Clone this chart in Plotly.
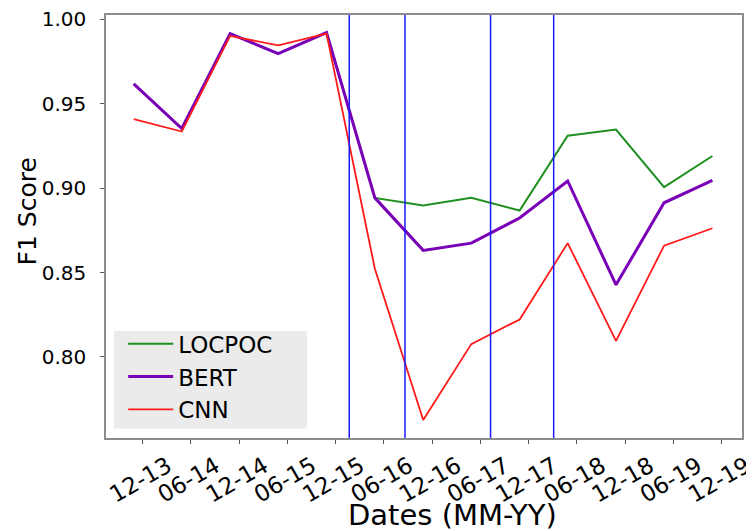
import plotly.graph_objects as go

# ---- data ----
dates = ["2013-10-28", "2014-04-28", "2014-10-28", "2015-04-28", "2015-10-28",
         "2016-04-28", "2016-10-28", "2017-04-28", "2017-10-28", "2018-04-28",
         "2018-10-28", "2019-04-28", "2019-10-28"]
locpoc = [0.9617, 0.9353, 0.9915, 0.9796, 0.9921, 0.8942, 0.8897, 0.8942,
          0.8867, 0.9310, 0.9347, 0.9006, 0.9190]
bert = [0.9617, 0.9353, 0.9915, 0.9796, 0.9921, 0.8942, 0.8631, 0.8674,
        0.8823, 0.9042, 0.8427, 0.8913, 0.9046]
cnn = [0.9409, 0.9335, 0.9901, 0.9845, 0.9915, 0.8522, 0.7627, 0.8076,
       0.8222, 0.8674, 0.8095, 0.8659, 0.8762]
tick_dates = ["2013-12-01", "2014-06-01", "2014-12-01", "2015-06-01", "2015-12-01",
              "2016-06-01", "2016-12-01", "2017-06-01", "2017-12-01", "2018-06-01",
              "2018-12-01", "2019-06-01", "2019-12-01"]
tick_labels = ["12-13", "06-14", "12-14", "06-15", "12-15", "06-16", "12-16",
               "06-17", "12-17", "06-18", "12-18", "06-19", "12-19"]
event_dates = ["2016-01-22", "2016-08-20", "2017-07-10", "2018-03-06"]
y_ticks = [0.80, 0.85, 0.90, 0.95, 1.00]
y_tick_labels = ["0.80", "0.85", "0.90", "0.95", "1.00"]

FONT = "DejaVu Sans"

fig = go.Figure()
fig.add_trace(go.Scatter(x=dates, y=locpoc, mode="lines", name="LOCPOC",
                         line=dict(color="#1f8f1f", width=2)))
fig.add_trace(go.Scatter(x=dates, y=bert, mode="lines", name="BERT",
                         line=dict(color="#7a00b8", width=3)))
fig.add_trace(go.Scatter(x=dates, y=cnn, mode="lines", name="CNN",
                         line=dict(color="#ff1a1a", width=1.8)))

# legend background box (matplotlib-style)
fig.add_shape(type="rect", xref="paper", yref="paper",
              x0=0.0126, x1=0.316, y0=0.0222, y1=0.253,
              fillcolor="#ebebeb", line=dict(width=0), layer="above")

for d in event_dates:
    fig.add_shape(type="line", xref="x", yref="paper", x0=d, x1=d, y0=0, y1=1,
                  line=dict(color="#1a1aff", width=1.5), layer="above")

# page body has an 8px offset, so the figure is 8px smaller
fig.update_layout(
    width=746, height=523,
    margin=dict(l=98, r=11.7, t=7, b=93.3, autoexpand=False),
    paper_bgcolor="white", plot_bgcolor="white",
    font=dict(family=FONT, color="black"),
    showlegend=True,
    legend=dict(x=0.027, y=0.2737, xanchor="left", yanchor="top",
                bgcolor="rgba(0,0,0,0)", font=dict(size=23, family=FONT),
                itemwidth=45, tracegroupgap=0),
    xaxis=dict(
        type="date", range=["2013-07-15", "2020-02-17"],
        tickmode="array", tickvals=tick_dates, ticktext=tick_labels,
        tickangle=-30, tickfont=dict(size=23, family=FONT),
        ticks="outside", ticklen=4, tickcolor="#555555",
        showline=True, linecolor="#8c8c8c", linewidth=1.5, mirror=True,
        showgrid=False, zeroline=False, automargin=False,
        ticklabelshift=25, ticklabelstandoff=0, ticklabeloverflow="allow",
    ),
    yaxis=dict(
        range=[0.752, 1.0025],
        tickmode="array", tickvals=y_ticks, ticktext=y_tick_labels,
        tickfont=dict(size=20, family=FONT),
        ticks="outside", ticklen=4, tickcolor="#555555",
        showline=True, linecolor="#8c8c8c", linewidth=1.5, mirror=True,
        showgrid=False, zeroline=False, automargin=False, ticklabelstandoff=10,
        ticklabeloverflow="allow",
    ),
    annotations=[
        dict(text="Dates (MM-YY)", xref="paper", yref="paper",
             x=0.5446, y=-0.182, xanchor="center", yanchor="middle",
             showarrow=False, font=dict(size=29, family=FONT)),
        dict(text="F1 Score", xref="paper", yref="paper",
             x=-0.124, y=0.536, xanchor="center", yanchor="middle",
             textangle=-90, showarrow=False, font=dict(size=25, family=FONT)),
    ],
)

fig.write_html("out.html")
